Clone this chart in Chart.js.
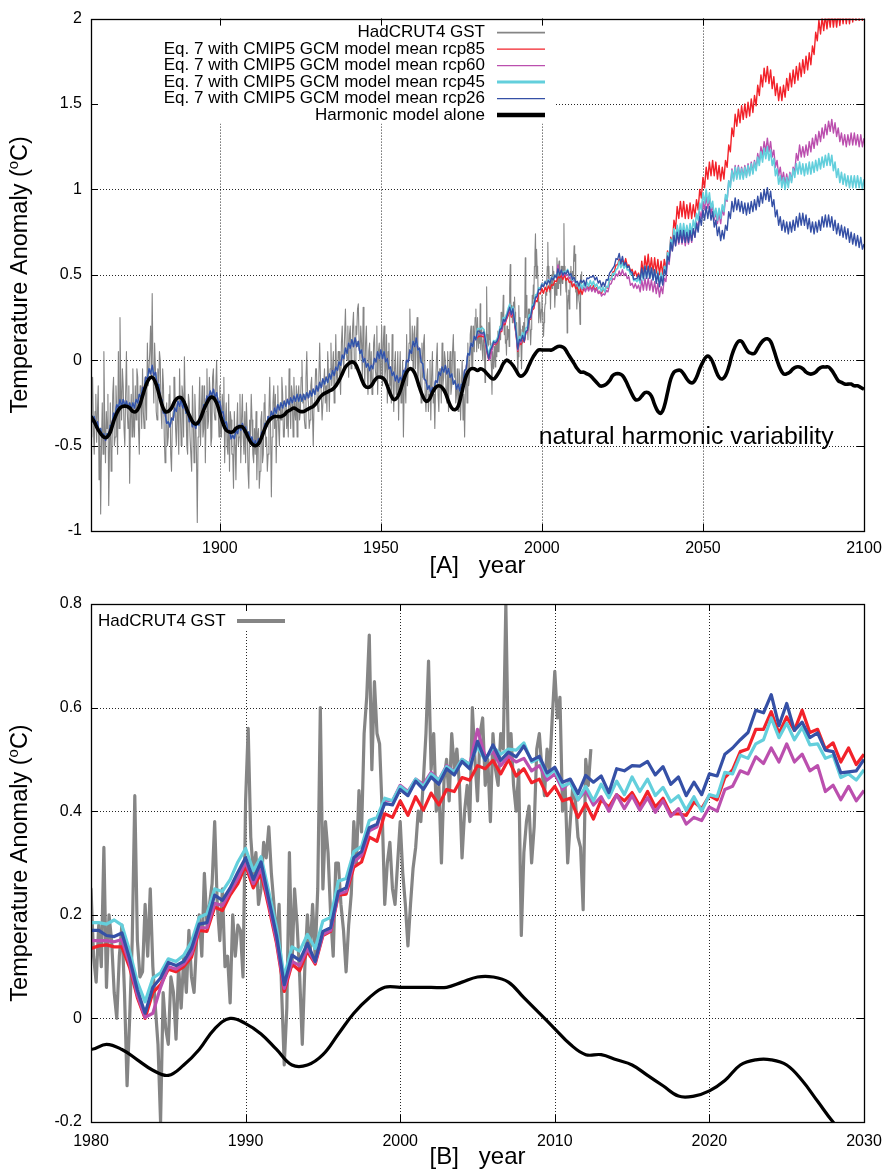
<!DOCTYPE html>
<html>
<head>
<meta charset="utf-8">
<script src="https://cdn.jsdelivr.net/npm/chart.js@4.4.0/dist/chart.umd.min.js"></script>
<style>
  body { margin: 0; background: #fff; }
  canvas { display: block; }
</style>
</head>
<body>
<canvas id="chartA" width="892" height="585"></canvas>
<canvas id="chartB" width="892" height="590"></canvas>
<script>
// ---- data ----
// harmonic model, yearly 1860..2100
var harmonic = [
  -0.33,-0.36,-0.40,-0.43,-0.45,-0.45,-0.42,-0.36,-0.31,-0.28,
  -0.27,-0.27,-0.28,-0.30,-0.30,-0.27,-0.21,-0.15,-0.11,-0.10,
  -0.13,-0.19,-0.26,-0.30,-0.30,-0.28,-0.24,-0.22,-0.22,-0.25,
  -0.30,-0.34,-0.37,-0.37,-0.34,-0.29,-0.25,-0.22,-0.22,-0.25,
  -0.31,-0.37,-0.41,-0.42,-0.42,-0.40,-0.39,-0.39,-0.42,-0.46,
  -0.49,-0.50,-0.49,-0.45,-0.40,-0.36,-0.34,-0.33,-0.33,-0.33,
  -0.32,-0.30,-0.29,-0.28,-0.29,-0.30,-0.30,-0.29,-0.28,-0.27,
  -0.25,-0.22,-0.20,-0.19,-0.18,-0.17,-0.15,-0.12,-0.08,-0.04,
  -0.02,-0.01,-0.02,-0.06,-0.11,-0.15,-0.16,-0.15,-0.12,-0.10,
  -0.10,-0.11,-0.15,-0.20,-0.23,-0.22,-0.18,-0.12,-0.07,-0.05,
  -0.06,-0.10,-0.16,-0.21,-0.24,-0.23,-0.19,-0.16,-0.15,-0.16,
  -0.19,-0.24,-0.28,-0.29,-0.27,-0.20,-0.12,-0.07,-0.05,-0.05,
  -0.06,-0.05,-0.06,-0.08,-0.10,-0.11,-0.09,-0.06,-0.02,0.00,
  -0.01,-0.03,-0.06,-0.09,-0.09,-0.07,-0.03,0.01,0.04,0.06,
  0.06,0.06,0.06,0.06,0.07,0.08,0.08,0.07,0.04,0.01,
  -0.02,-0.05,-0.07,-0.07,-0.08,-0.09,-0.11,-0.13,-0.15,-0.15,
  -0.14,-0.12,-0.09,-0.08,-0.08,-0.09,-0.12,-0.16,-0.20,-0.23,
  -0.23,-0.21,-0.19,-0.19,-0.21,-0.26,-0.30,-0.31,-0.27,-0.19,
  -0.11,-0.07,-0.06,-0.06,-0.08,-0.11,-0.13,-0.13,-0.10,-0.05,
  -0.01,0.02,0.02,-0.01,-0.06,-0.10,-0.11,-0.09,-0.04,0.03,
  0.08,0.11,0.11,0.08,0.05,0.04,0.04,0.07,0.10,0.12,
  0.125,0.11,0.06,0.00,-0.05,-0.08,-0.08,-0.07,-0.05,-0.04,
  -0.04,-0.05,-0.07,-0.08,-0.08,-0.07,-0.05,-0.04,-0.04,-0.04,
  -0.06,-0.09,-0.12,-0.13,-0.14,-0.14,-0.14,-0.15,-0.15,-0.16,
  -0.17
];

// Eq. 7 hindcast, half-yearly 1860.0..1979.5 (the scenarios coincide here)
var modelHist = [
  -0.31,-0.36, -0.33,-0.38, -0.36,-0.42, -0.40,-0.45, -0.43,-0.47,
  -0.43,-0.44, -0.38,-0.38, -0.31,-0.32, -0.26,-0.28, -0.23,-0.27,
  -0.23,-0.27, -0.24,-0.28, -0.25,-0.29, -0.25,-0.28, -0.23,-0.25,
  -0.20,-0.22, -0.16,-0.17, -0.10,-0.11, -0.05,-0.08, -0.03,-0.09,
  -0.07,-0.14, -0.14,-0.22, -0.23,-0.31, -0.31,-0.37, -0.36,-0.39,
  -0.34,-0.35, -0.28,-0.30, -0.24,-0.27, -0.23,-0.28, -0.25,-0.31,
  -0.30,-0.36, -0.34,-0.39, -0.36,-0.40, -0.36,-0.38, -0.32,-0.33,
  -0.26,-0.27, -0.21,-0.23, -0.18,-0.21, -0.17,-0.22, -0.19,-0.25,
  -0.24,-0.31, -0.30,-0.37, -0.36,-0.42, -0.41,-0.46, -0.44,-0.46,
  -0.41,-0.43, -0.38,-0.41, -0.37,-0.42, -0.39,-0.44, -0.42,-0.47,
  -0.45,-0.50, -0.47,-0.50, -0.46,-0.48, -0.42,-0.43, -0.37,-0.39,
  -0.33,-0.35, -0.30,-0.33, -0.28,-0.31, -0.26,-0.29, -0.25,-0.28,
  -0.24,-0.27, -0.23,-0.26, -0.22,-0.25, -0.21,-0.24, -0.20,-0.24,
  -0.20,-0.24, -0.20,-0.23, -0.19,-0.22, -0.18,-0.21, -0.17,-0.20,
  -0.15,-0.18, -0.13,-0.16, -0.11,-0.14, -0.10,-0.13, -0.08,-0.11,
  -0.06,-0.09, -0.04,-0.06, -0.01,-0.03, 0.03,0.01, 0.07,0.04,
  0.10,0.07, 0.12,0.08, 0.13,0.08, 0.11,0.04, 0.06,-0.01,
  0.01,-0.04, -0.02,-0.06, -0.03,-0.05, 0.01,-0.01, 0.05,0.01,
  0.06,0.01, 0.05,-0.01, 0.01,-0.05, -0.04,-0.09, -0.07,-0.12,
  -0.09,-0.13, -0.10,-0.12, -0.06,-0.07, 0.00,-0.01, 0.06,0.04,
  0.11,0.08, 0.13,0.06, 0.07,-0.01, -0.02,-0.11, -0.12,-0.17,
  -0.15,-0.19, -0.16,-0.18, -0.12,-0.13, -0.07,-0.09, -0.04,-0.07,
  -0.03,-0.08, -0.05,-0.10, -0.08,-0.14, -0.12,-0.17, -0.14,-0.18,
  -0.14,-0.14, -0.06,-0.05, 0.04,0.03, 0.10,0.08, 0.14,0.12
];

// half-yearly 1980.0..2029.5
var rcp85Near = [
  0.135,0.140, 0.142,0.138, 0.138,0.098, 0.040,0.000, 0.050,0.065,
  0.095,0.090, 0.100,0.118, 0.170,0.168, 0.215,0.208, 0.238,0.260,
  0.295,0.252, 0.280,0.215, 0.145,0.052, 0.105,0.092, 0.130,0.105,
  0.160,0.168, 0.238,0.240, 0.292,0.302, 0.350,0.342, 0.395,0.388,
  0.420,0.392, 0.428,0.402, 0.435,0.412, 0.442,0.438, 0.465,0.460,
  0.488,0.482, 0.498,0.472, 0.500,0.468, 0.482,0.455, 0.462,0.430,
  0.448,0.420, 0.425,0.388, 0.415,0.385, 0.422,0.408, 0.432,0.420,
  0.436,0.410, 0.438,0.408, 0.425,0.395, 0.395,0.392, 0.418,0.405,
  0.430,0.422, 0.465,0.480, 0.515,0.520, 0.558,0.558, 0.592,0.550,
  0.582,0.556, 0.595,0.552, 0.558,0.520, 0.532,0.495, 0.522,0.490
];
var rcp60Near = [
  0.150,0.150, 0.150,0.148, 0.152,0.105, 0.045,0.002, 0.010,0.060,
  0.100,0.095, 0.105,0.125, 0.175,0.175, 0.222,0.218, 0.245,0.270,
  0.302,0.260, 0.290,0.222, 0.150,0.058, 0.110,0.102, 0.135,0.108,
  0.162,0.170, 0.240,0.245, 0.302,0.315, 0.362,0.370, 0.422,0.420,
  0.450,0.438, 0.462,0.452, 0.475,0.460, 0.488,0.476, 0.500,0.490,
  0.558,0.505, 0.515,0.488, 0.506,0.495, 0.502,0.478, 0.488,0.460,
  0.472,0.442, 0.458,0.422, 0.440,0.412, 0.428,0.400, 0.432,0.405,
  0.430,0.402, 0.426,0.398, 0.420,0.390, 0.405,0.375, 0.388,0.382,
  0.408,0.400, 0.442,0.448, 0.478,0.472, 0.505,0.492, 0.522,0.495,
  0.530,0.495, 0.510,0.478, 0.488,0.438, 0.450,0.422, 0.448,0.420
];
var rcp45Near = [
  0.185,0.185, 0.182,0.190, 0.180,0.130, 0.070,0.032, 0.078,0.088,
  0.115,0.110, 0.122,0.148, 0.195,0.202, 0.250,0.245, 0.268,0.302,
  0.328,0.285, 0.312,0.245, 0.175,0.080, 0.138,0.130, 0.162,0.135,
  0.188,0.195, 0.265,0.270, 0.322,0.332, 0.382,0.388, 0.425,0.420,
  0.448,0.436, 0.462,0.448, 0.472,0.460, 0.486,0.476, 0.500,0.490,
  0.525,0.498, 0.524,0.510, 0.520,0.518, 0.532,0.495, 0.502,0.468,
  0.480,0.448, 0.455,0.422, 0.448,0.420, 0.452,0.426, 0.458,0.432,
  0.466,0.438, 0.462,0.430, 0.446,0.418, 0.430,0.402, 0.428,0.400,
  0.432,0.428, 0.475,0.472, 0.508,0.502, 0.530,0.538, 0.580,0.542,
  0.570,0.538, 0.562,0.528, 0.530,0.502, 0.508,0.465, 0.472,0.460
];
var rcp26Near = [
  0.170,0.170, 0.160,0.158, 0.165,0.115, 0.055,0.010, 0.060,0.078,
  0.108,0.102, 0.110,0.135, 0.182,0.185, 0.238,0.228, 0.252,0.282,
  0.310,0.268, 0.302,0.230, 0.160,0.065, 0.122,0.112, 0.145,0.110,
  0.168,0.175, 0.245,0.252, 0.310,0.322, 0.368,0.375, 0.415,0.412,
  0.442,0.430, 0.458,0.442, 0.466,0.452, 0.482,0.470, 0.496,0.482,
  0.535,0.498, 0.528,0.498, 0.514,0.505, 0.526,0.498, 0.506,0.474,
  0.485,0.456, 0.462,0.434, 0.469,0.456, 0.468,0.436, 0.482,0.478,
  0.488,0.487, 0.496,0.470, 0.486,0.452, 0.466,0.430, 0.456,0.432,
  0.472,0.468, 0.510,0.522, 0.538,0.552, 0.595,0.590, 0.625,0.565,
  0.608,0.556, 0.572,0.542, 0.551,0.518, 0.515,0.474, 0.476,0.478
];

// half-yearly 2030.0..2100.0
var rcp85Far = [
  0.51,0.47, 0.58,0.50, 0.61,0.53, 0.62,0.52, 0.60,0.51,
  0.60,0.51, 0.59,0.50, 0.58,0.50, 0.59,0.53, 0.64,0.59,
  0.72,0.68, 0.82,0.77, 0.90,0.83, 0.93,0.84, 0.93,0.83,
  0.91,0.83, 0.92,0.83, 0.91,0.84, 0.94,0.88, 1.00,0.95,
  1.07,1.01, 1.13,1.06, 1.16,1.08, 1.17,1.08, 1.16,1.06,
  1.14,1.05, 1.13,1.06, 1.17,1.13, 1.26,1.22, 1.36,1.31,
  1.44,1.37, 1.47,1.39, 1.49,1.41, 1.50,1.42, 1.51,1.43,
  1.53,1.45, 1.55,1.49, 1.61,1.55, 1.67,1.60, 1.71,1.63,
  1.72,1.62, 1.70,1.59, 1.66,1.55, 1.62,1.52, 1.60,1.52,
  1.61,1.54, 1.65,1.58, 1.68,1.60, 1.70,1.62, 1.72,1.64,
  1.74,1.66, 1.76,1.68, 1.78,1.70, 1.80,1.73, 1.84,1.79,
  1.92,1.87, 1.99,1.91, 2.01,1.93, 2.02,1.94, 2.03,1.95,
  2.04,1.95, 2.03,1.95, 2.04,1.96, 2.05,1.97, 2.06,1.97,
  2.05,1.97, 2.06,1.98, 2.07,1.99, 2.08,1.99, 2.07,1.99,
  2.08
];
var rcp60Far = [
  0.44,0.40, 0.47,0.41, 0.48,0.41, 0.48,0.41, 0.47,0.40,
  0.46,0.39, 0.45,0.37, 0.43,0.39, 0.48,0.46, 0.58,0.56,
  0.68,0.64, 0.73,0.67, 0.74,0.68, 0.75,0.68, 0.74,0.67,
  0.74,0.68, 0.75,0.69, 0.77,0.72, 0.81,0.77, 0.87,0.83,
  0.93,0.88, 0.96,0.89, 0.95,0.86, 0.91,0.82, 0.87,0.80,
  0.86,0.80, 0.88,0.85, 0.95,0.93, 1.05,1.02, 1.12,1.06,
  1.14,1.07, 1.14,1.07, 1.13,1.07, 1.14,1.08, 1.15,1.09,
  1.16,1.10, 1.17,1.12, 1.21,1.16, 1.25,1.20, 1.28,1.22,
  1.30,1.22, 1.28,1.19, 1.23,1.13, 1.17,1.08, 1.13,1.05,
  1.10,1.03, 1.09,1.03, 1.10,1.05, 1.13,1.10, 1.21,1.17,
  1.26,1.19, 1.25,1.19, 1.26,1.20, 1.28,1.22, 1.30,1.24,
  1.32,1.26, 1.34,1.28, 1.36,1.30, 1.38,1.32, 1.40,1.34,
  1.41,1.33, 1.39,1.31, 1.36,1.28, 1.33,1.26, 1.32,1.25,
  1.32,1.26, 1.33,1.26, 1.33,1.26, 1.32,1.25, 1.32,1.25,
  1.30
];
var rcp45Far = [
  0.48,0.45, 0.53,0.47, 0.55,0.48, 0.55,0.48, 0.54,0.47,
  0.53,0.46, 0.52,0.45, 0.51,0.46, 0.55,0.52, 0.63,0.60,
  0.71,0.67, 0.77,0.71, 0.79,0.73, 0.80,0.73, 0.80,0.73,
  0.79,0.73, 0.80,0.74, 0.82,0.77, 0.86,0.82, 0.92,0.88,
  0.98,0.92, 1.00,0.92, 0.98,0.89, 0.93,0.84, 0.89,0.82,
  0.89,0.83, 0.91,0.87, 0.97,0.94, 1.05,1.01, 1.11,1.05,
  1.13,1.06, 1.13,1.06, 1.12,1.06, 1.13,1.07, 1.14,1.08,
  1.15,1.09, 1.16,1.11, 1.19,1.14, 1.22,1.16, 1.24,1.18,
  1.25,1.17, 1.23,1.14, 1.18,1.08, 1.12,1.03, 1.08,1.01,
  1.07,1.00, 1.07,1.01, 1.09,1.04, 1.12,1.07, 1.15,1.09,
  1.16,1.09, 1.15,1.08, 1.15,1.09, 1.16,1.09, 1.16,1.10,
  1.17,1.11, 1.18,1.12, 1.19,1.13, 1.20,1.14, 1.21,1.14,
  1.20,1.11, 1.16,1.07, 1.12,1.04, 1.10,1.03, 1.09,1.02,
  1.08,1.01, 1.08,1.01, 1.08,1.01, 1.08,1.01, 1.07,1.00,
  1.06
];
var rcp26Far = [
  0.50,0.47, 0.54,0.48, 0.55,0.48, 0.55,0.48, 0.54,0.47,
  0.53,0.45, 0.51,0.43, 0.49,0.44, 0.53,0.50, 0.61,0.58,
  0.69,0.64, 0.73,0.67, 0.75,0.69, 0.76,0.69, 0.76,0.69,
  0.75,0.69, 0.76,0.70, 0.77,0.72, 0.80,0.75, 0.84,0.79,
  0.88,0.82, 0.90,0.83, 0.90,0.82, 0.87,0.78, 0.82,0.73,
  0.78,0.70, 0.76,0.71, 0.79,0.76, 0.87,0.83, 0.93,0.87,
  0.95,0.88, 0.94,0.87, 0.93,0.86, 0.92,0.85, 0.92,0.86,
  0.93,0.87, 0.94,0.88, 0.96,0.90, 0.98,0.92, 1.00,0.94,
  1.01,0.93, 0.99,0.90, 0.94,0.84, 0.88,0.79, 0.84,0.76,
  0.82,0.75, 0.81,0.74, 0.81,0.75, 0.82,0.76, 0.84,0.78,
  0.86,0.79, 0.86,0.79, 0.85,0.77, 0.83,0.75, 0.81,0.74,
  0.81,0.75, 0.82,0.76, 0.84,0.78, 0.85,0.78, 0.85,0.78,
  0.84,0.76, 0.82,0.74, 0.80,0.73, 0.79,0.72, 0.78,0.71,
  0.77,0.69, 0.75,0.68, 0.74,0.67, 0.73,0.66, 0.72,0.65,
  0.68
];

// HadCRUT4 GST, quarterly 1860.00..1979.75
var hadEarly = [
  -0.45,-0.20,-0.10,-0.40, -0.55,-0.30,-0.20,-0.48, -0.30,-0.15,-0.70,-0.40,
  -0.90,-0.50,-0.25,-0.55, 0.05,-0.35,-0.60,-0.30, -0.40,-0.20,-0.85,-0.50,
  -0.25,-0.65,-0.55,-0.20, -0.10,-0.50,-0.45,-0.15, -0.30,-0.55,0.05,-0.40,
  0.25,-0.15,-0.35,-0.05, -0.15,-0.40,-0.50,-0.20, 0.05,-0.30,-0.40,-0.15,
  -0.72,-0.35,-0.20,-0.45, -0.05,-0.35,-0.45,-0.15, -0.35,-0.05,-0.10,-0.40,
  -0.55,-0.15,-0.20,-0.40, -0.05,-0.30,-0.40,-0.10, -0.20,-0.35,0.10,-0.15,
  -0.15,0.05,0.20,-0.10, 0.39,-0.05,-0.25,0.10, -0.05,-0.30,-0.35,-0.05,
  -0.20,0.05,0.00,-0.30, -0.40,-0.05,-0.15,-0.45, -0.60,-0.30,-0.25,-0.50,
  -0.45,-0.20,-0.15,-0.55, -0.65,-0.35,-0.30,-0.10, -0.10,-0.40,-0.50,-0.25,
  -0.35,-0.55,-0.05,-0.30, -0.50,-0.15,-0.20,-0.45, 0.02,-0.25,-0.30,-0.50,
  -0.55,-0.20,-0.25,-0.45, -0.45,-0.65,-0.15,-0.35, -0.60,-0.20,-0.35,-0.55,
  -0.95,-0.45,-0.30,-0.10, -0.50,-0.30,-0.15,-0.45, -0.40,-0.15,-0.60,-0.30,
  -0.05,-0.40,-0.35,-0.10, -0.20,-0.50,-0.45,-0.10, -0.05,-0.30,-0.35,-0.15,
  0.00,-0.25,-0.30,-0.45, -0.15,-0.40,-0.45,-0.20, -0.30,-0.10,-0.60,-0.35,
  -0.25,-0.50,-0.55,-0.20, -0.65,-0.30,-0.35,-0.55, -0.55,-0.75,-0.30,-0.50,
  -0.70,-0.40,-0.25,-0.50, -0.45,-0.20,-0.60,-0.35, -0.20,-0.45,-0.55,-0.30,
  -0.60,-0.25,-0.40,-0.65, -0.75,-0.35,-0.45,-0.20, -0.35,-0.55,-0.60,-0.40,
  -0.55,-0.30,-0.70,-0.45, -0.40,-0.75,-0.65,-0.35, -0.30,-0.60,-0.55,-0.25,
  -0.20,-0.50,-0.45,-0.65, -0.55,-0.30,-0.10,-0.40, -0.80,-0.45,-0.25,-0.15,
  -0.40,-0.20,-0.60,-0.35, -0.15,-0.40,-0.50,-0.25, -0.35,-0.10,-0.20,-0.45,
  -0.45,-0.25,-0.15,-0.40, -0.30,-0.45,-0.05,-0.25, -0.40,-0.15,-0.20,-0.45,
  -0.10,-0.30,-0.35,-0.15, -0.45,-0.20,-0.15,-0.35, -0.30,-0.10,0.00,-0.25,
  -0.20,-0.35,-0.40,-0.10, 0.05,-0.20,-0.25,-0.40, -0.35,-0.15,-0.10,-0.30,
  -0.50,-0.25,-0.20,-0.05, -0.05,-0.25,-0.30,-0.10, 0.10,-0.10,-0.20,-0.35,
  -0.35,-0.15,-0.05,-0.25, -0.15,-0.30,0.05,-0.10, -0.30,-0.05,0.10,-0.15,
  -0.05,0.05,-0.25,-0.10, 0.15,-0.10,-0.15,0.05, 0.05,-0.10,-0.20,0.10,
  0.20,0.00,-0.05,0.15, 0.30,0.05,0.00,0.20, -0.10,0.15,0.20,-0.05,
  0.05,0.20,0.28,0.00, -0.05,0.20,0.15,0.30, 0.33,0.10,0.00,0.20,
  0.10,-0.10,0.31,0.05, -0.15,0.10,0.20,-0.05, -0.20,0.05,0.10,-0.15,
  0.05,-0.20,-0.15,0.10, 0.15,-0.05,-0.10,0.20, -0.20,0.05,0.10,-0.10,
  0.00,0.20,-0.15,0.10, 0.20,-0.10,-0.05,0.15, -0.25,0.05,0.10,-0.15,
  -0.05,-0.25,0.15,-0.10, -0.30,-0.05,0.05,-0.20, -0.15,0.05,-0.35,-0.10,
  0.05,-0.25,-0.20,0.00, -0.45,-0.15,-0.10,-0.25, 0.15,-0.15,-0.05,0.10,
  0.30,0.05,0.00,0.20, -0.05,0.15,0.20,-0.05, 0.10,0.25,-0.15,0.05,
  0.05,-0.10,-0.25,0.10, -0.10,0.10,0.15,-0.20, -0.30,-0.10,-0.05,-0.30,
  -0.20,0.00,-0.35,-0.10, 0.05,-0.25,-0.20,-0.40, -0.15,0.00,0.10,-0.20,
  -0.30,-0.05,-0.05,-0.25, 0.10,-0.15,-0.10,0.05, 0.00,-0.20,-0.25,0.05,
  -0.30,-0.05,0.05,-0.20, -0.15,0.05,0.15,-0.10, 0.05,-0.25,-0.20,-0.05,
  -0.30,-0.05,-0.10,-0.35, -0.15,0.00,-0.35,-0.20, -0.45,-0.15,-0.05,-0.25,
  0.10,-0.15,-0.10,0.15, 0.20,-0.05,-0.05,0.20, 0.05,0.25,0.30,0.05
];
// HadCRUT4 GST, every two months 1980.00..2012.33
var hadRecent = [
  0.25,0.12,0.07,0.18,0.10,0.33, 0.06,0.20,0.15,0.05,0.00,0.12,
  0.18,0.05,-0.13,0.00,0.15,0.43, 0.15,0.08,0.09,0.22,0.12,0.25,
  0.10,0.02,-0.05,-0.20,0.05,-0.02, -0.05,0.08,0.05,-0.04,0.10,0.02,
  0.12,0.05,0.17,0.08,0.05,0.15, 0.20,0.12,0.28,0.18,0.22,0.26,
  0.38,0.22,0.15,0.25,0.10,0.12, 0.03,0.20,0.12,0.18,0.17,0.08,
  0.42,0.56,0.35,0.28,0.32,0.22, 0.25,0.34,0.31,0.37,0.28,0.22,
  0.15,0.22,0.05,-0.09,0.02,0.32, 0.10,0.25,0.18,0.08,-0.05,0.10,
  0.20,0.12,0.22,0.12,0.25,0.60, 0.25,0.38,0.32,0.20,0.12,0.30,
  0.30,0.22,0.17,0.09,0.18,0.24, 0.38,0.30,0.44,0.36,0.55,0.62,
  0.74,0.48,0.65,0.55,0.53,0.40, 0.22,0.30,0.34,0.25,0.22,0.30,
  0.38,0.28,0.22,0.14,0.22,0.29, 0.33,0.40,0.38,0.46,0.55,0.69,
  0.48,0.55,0.40,0.45,0.30,0.46, 0.50,0.42,0.55,0.48,0.52,0.45,
  0.31,0.40,0.45,0.38,0.60,0.50, 0.42,0.55,0.58,0.45,0.50,0.38,
  0.55,0.48,0.45,0.55,0.52,0.80, 0.50,0.55,0.45,0.40,0.48,0.16,
  0.32,0.38,0.41,0.30,0.37,0.52, 0.55,0.48,0.43,0.52,0.48,0.58,
  0.67,0.58,0.62,0.40,0.45,0.30, 0.38,0.45,0.42,0.35,0.33,0.21,
  0.50,0.45,0.52
];

var xTicksA = [1900, 1950, 2000, 2050, 2100];
var yTicksA = [-1, -0.5, 0, 0.5, 1, 1.5, 2];
var xTicksB = [1980, 1990, 2000, 2010, 2020, 2030];
var yTicksB = [-0.2, 0, 0.2, 0.4, 0.6, 0.8];

var legendLabels = [
  'HadCRUT4 GST',
  'Eq. 7 with CMIP5 GCM model mean rcp85',
  'Eq. 7 with CMIP5 GCM model mean rcp60',
  'Eq. 7 with CMIP5 GCM model mean rcp45',
  'Eq. 7 with CMIP5 GCM model mean rcp26',
  'Harmonic model alone'
];

// ---- helpers ----
var FONT = '"Liberation Sans", Arial, Helvetica, sans-serif';
var colors = {
  gray: '#858585', rcp85: '#f2222a', rcp60: '#bb4fae',
  rcp45: '#63cfdc', rcp26: '#3550a6', harm: '#000000'
};

function series(start, step, values) {
  return values.map(function (v, i) { return { x: start + i * step, y: v }; });
}
function scenario(near, far) {
  return series(1860, 0.5, modelHist).concat(series(1980, 0.5, near), series(2030, 0.5, far));
}
var hadcrut = series(1860, 0.25, hadEarly).concat(series(1980, 1 / 6, hadRecent));

function makeDatasets(w) {
  var line = function (label, data, color, width, extra) {
    var d = { label: label, data: data, borderColor: color, borderWidth: width,
      pointRadius: 0, tension: 0, clip: 0, borderJoinStyle: 'round', fill: false };
    return Object.assign(d, extra || {});
  };
  // first dataset is painted last (on top)
  return [
    line(legendLabels[5], series(1860, 1, harmonic), colors.harm, w.harm, { tension: 0.4 }),
    line(legendLabels[4], scenario(rcp26Near, rcp26Far), colors.rcp26, w.model),
    line(legendLabels[3], scenario(rcp45Near, rcp45Far), colors.rcp45, w.cyan),
    line(legendLabels[2], scenario(rcp60Near, rcp60Far), colors.rcp60, w.model),
    line(legendLabels[1], scenario(rcp85Near, rcp85Far), colors.rcp85, w.model),
    line(legendLabels[0], hadcrut, colors.gray, w.gray)
  ];
}

function drawYTitle(ctx, cx, cy) {
  var big = '23.5px ' + FONT, small = '15px ' + FONT;
  var t1 = 'Temperature Anomaly (', t2 = 'o', t3 = 'C)';
  ctx.save();
  ctx.translate(cx, cy);
  ctx.rotate(-Math.PI / 2);
  ctx.font = big;
  var w1 = ctx.measureText(t1).width, w3 = ctx.measureText(t3).width;
  ctx.font = small;
  var w2 = ctx.measureText(t2).width;
  var x = -(w1 + w2 + w3) / 2;
  ctx.fillStyle = '#000';
  ctx.textAlign = 'left';
  ctx.textBaseline = 'alphabetic';
  ctx.font = big; ctx.fillText(t1, x, 0); x += w1;
  ctx.font = small; ctx.fillText(t2, x, -9); x += w2;
  ctx.font = big; ctx.fillText(t3, x, 0);
  ctx.restore();
}

function framePlugin(cfg) {
  return {
    id: 'frame',
    beforeDatasetsDraw: function (chart) {
      var ctx = chart.ctx, a = chart.chartArea, xs = chart.scales.x, ys = chart.scales.y;
      ctx.save();
      ctx.strokeStyle = 'rgba(0,0,0,0.85)';
      ctx.lineWidth = 1;
      ctx.setLineDash([1, 2]);
      ctx.beginPath();
      cfg.xTicks.forEach(function (v) {
        if (v <= xs.min || v >= xs.max) return;
        var p = Math.round(xs.getPixelForValue(v)) + 0.5;
        ctx.moveTo(p, a.top); ctx.lineTo(p, a.bottom);
      });
      cfg.yTicks.forEach(function (v) {
        if (v <= ys.min + 1e-9 || v >= ys.max - 1e-9) return;
        var p = Math.round(ys.getPixelForValue(v)) + 0.5;
        ctx.moveTo(a.left, p); ctx.lineTo(a.right, p);
      });
      ctx.stroke();
      ctx.setLineDash([]);
      // opaque key box
      ctx.fillStyle = '#fff';
      ctx.fillRect(a.left, a.top, cfg.keyBox[0], cfg.keyBox[1]);
      ctx.restore();
    },
    afterDatasetsDraw: function (chart) {
      var ctx = chart.ctx, a = chart.chartArea, xs = chart.scales.x, ys = chart.scales.y;
      ctx.save();
      ctx.strokeStyle = '#000';
      ctx.lineWidth = 1;
      ctx.beginPath();
      cfg.xTicks.forEach(function (v) {
        var p = Math.round(xs.getPixelForValue(v)) + 0.5;
        ctx.moveTo(p, a.bottom); ctx.lineTo(p, a.bottom - 7);
        ctx.moveTo(p, a.top); ctx.lineTo(p, a.top + 7);
      });
      cfg.yTicks.forEach(function (v) {
        var p = Math.round(ys.getPixelForValue(v)) + 0.5;
        ctx.moveTo(a.left, p); ctx.lineTo(a.left + 7, p);
        ctx.moveTo(a.right, p); ctx.lineTo(a.right - 7, p);
      });
      ctx.stroke();
      ctx.lineWidth = 1.3;
      ctx.strokeRect(Math.round(a.left) + 0.5, Math.round(a.top) + 0.5,
        Math.round(a.right - a.left), Math.round(a.bottom - a.top));
      ctx.restore();

      cfg.key(ctx, a);
      drawYTitle(ctx, 27, (a.top + a.bottom) / 2);

      ctx.save();
      ctx.fillStyle = '#000';
      ctx.font = '24px ' + FONT;
      ctx.textAlign = 'center';
      ctx.textBaseline = 'alphabetic';
      ctx.fillText(cfg.xTitle, (a.left + a.right) / 2, a.bottom + 42);
      if (cfg.note) {
        ctx.font = '24.8px ' + FONT;
        ctx.textAlign = 'left';
        ctx.fillText(cfg.note.text, xs.getPixelForValue(cfg.note.x), ys.getPixelForValue(cfg.note.y));
      }
      ctx.restore();
    }
  };
}

function keySample(ctx, x0, x1, y, color, width) {
  ctx.strokeStyle = color;
  ctx.lineWidth = width;
  ctx.beginPath();
  ctx.moveTo(x0, y); ctx.lineTo(x1, y);
  ctx.stroke();
}

function keyA(ctx, a) {
  var rows = [
    { color: colors.gray, width: 1.6 },
    { color: colors.rcp85, width: 1.4 },
    { color: colors.rcp60, width: 1.4 },
    { color: colors.rcp45, width: 3 },
    { color: colors.rcp26, width: 1.4 },
    { color: colors.harm, width: 4.5 }
  ];
  ctx.save();
  ctx.font = '17px ' + FONT;
  ctx.fillStyle = '#000';
  ctx.textAlign = 'right';
  ctx.textBaseline = 'middle';
  rows.forEach(function (r, i) {
    var y = a.top + 14 + i * 16.5;
    ctx.fillText(legendLabels[i], 485, y);
    keySample(ctx, 497, 545, y, r.color, r.width);
  });
  ctx.restore();
}

function keyB(ctx, a) {
  ctx.save();
  ctx.font = '17px ' + FONT;
  ctx.fillStyle = '#000';
  ctx.textAlign = 'left';
  ctx.textBaseline = 'middle';
  var y = a.top + 17;
  ctx.fillText(legendLabels[0], 98, y);
  keySample(ctx, 237, 285, y, colors.gray, 4);
  ctx.restore();
}

function axisOptions(xMin, xMax, yMin, yMax, xTicks, yTicks, xHeight, xPad) {
  var tickFont = { family: FONT, size: 16 };
  return {
    x: {
      type: 'linear', min: xMin, max: xMax,
      afterBuildTicks: function (s) { s.ticks = xTicks.map(function (v) { return { value: v }; }); },
      afterFit: function (s) { s.height = xHeight; },
      ticks: { callback: function (v) { return String(v); }, font: tickFont, color: '#000',
        padding: xPad, autoSkip: false, maxRotation: 0 },
      grid: { display: false, drawTicks: false },
      border: { display: false }
    },
    y: {
      type: 'linear', min: yMin, max: yMax,
      afterBuildTicks: function (s) { s.ticks = yTicks.map(function (v) { return { value: v }; }); },
      afterFit: function (s) { s.width = 91; },
      ticks: { callback: function (v) { return String(v); }, font: tickFont, color: '#000',
        padding: 9, autoSkip: false },
      grid: { display: false, drawTicks: false },
      border: { display: false }
    }
  };
}

var baseOptions = function (scales, padTop) {
  return {
    responsive: false,
    animation: false,
    devicePixelRatio: 1,
    layout: { padding: { top: padTop, right: 28, left: 0, bottom: 0 } },
    plugins: { legend: { display: false }, tooltip: { enabled: false } },
    scales: scales
  };
};

// ---- panel A ----
new Chart(document.getElementById('chartA').getContext('2d'), {
  type: 'line',
  data: { datasets: makeDatasets({ harm: 3.6, model: 1.4, cyan: 1.6, gray: 1.1 }) },
  options: baseOptions(axisOptions(1860, 2100, -1, 2, xTicksA, yTicksA, 54, 8), 13),
  plugins: [framePlugin({
    xTicks: xTicksA, yTicks: yTicksA, keyBox: [464, 105], key: keyA,
    xTitle: '[A]   year',
    note: { text: 'natural harmonic variability', x: 1999, y: -0.49 }
  })]
});

// ---- panel B ----
new Chart(document.getElementById('chartB').getContext('2d'), {
  type: 'line',
  data: { datasets: makeDatasets({ harm: 3.2, model: 3.2, cyan: 3.2, gray: 3.2 }) },
  options: baseOptions(axisOptions(1980, 2030, -0.2, 0.8, xTicksB, yTicksB, 53, 10), 19),
  plugins: [framePlugin({
    xTicks: xTicksB, yTicks: yTicksB, keyBox: [200, 25], key: keyB,
    xTitle: '[B]   year'
  })]
});
</script>
</body>
</html>
